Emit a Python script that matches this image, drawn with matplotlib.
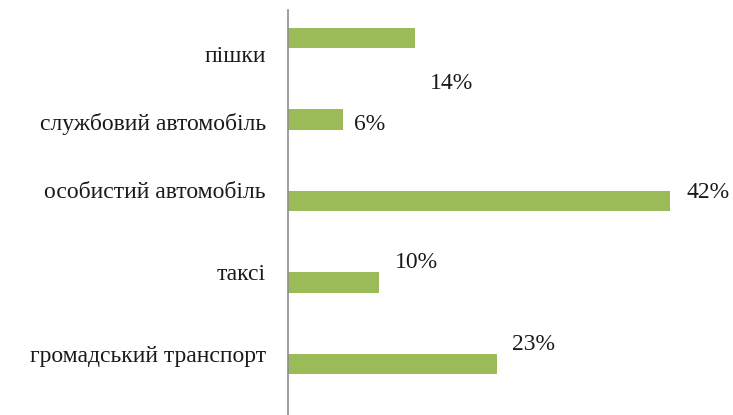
import matplotlib
matplotlib.use("Agg")
import matplotlib.pyplot as plt

# transport modes, top to bottom
modes = ["пішки", "службовий автомобіль", "особистий автомобіль", "таксі", "громадський транспорт"]
shares = [14, 6, 42, 10, 23]

# label nudges in pixels (category labels: dy; value labels: dx, dy)
cat_dy = [-18, -4, 9, 8, 7]
val_dx = [15, 11, 16, 16, 15]
val_dy = [-45, -5, 9, 20, 19]

plt.rcParams['font.family'] = ['Liberation Serif', 'DejaVu Serif']

fig = plt.figure(figsize=(7.33, 4.15), dpi=100)
ax = fig.add_axes([288 / 733, 0, 445 / 733, 405 / 415])

ypos = list(range(len(modes)))
ax.barh(ypos, shares, height=0.25, color="#9bbb59")
ax.set_xlim(0, 48.9)
ax.set_ylim(4.626, -0.344)

for s in ["top", "right", "bottom"]:
    ax.spines[s].set_visible(False)
ax.spines["left"].set_color("#8c8c8c")
ax.spines["left"].set_linewidth(1.2)
ax.set_xticks([])
ax.set_yticks([])

for i, (m, v) in enumerate(zip(modes, shares)):
    ax.annotate(m, (0, i), xytext=(-22, cat_dy[i]), textcoords="offset pixels",
                ha="right", va="center", fontsize=17, color="#1a1a1a")
    ax.annotate(f"{v}%", (v, i), xytext=(val_dx[i], val_dy[i]), textcoords="offset pixels",
                ha="left", va="center", fontsize=17, color="#1a1a1a")

fig.savefig("out.png", dpi=100)
